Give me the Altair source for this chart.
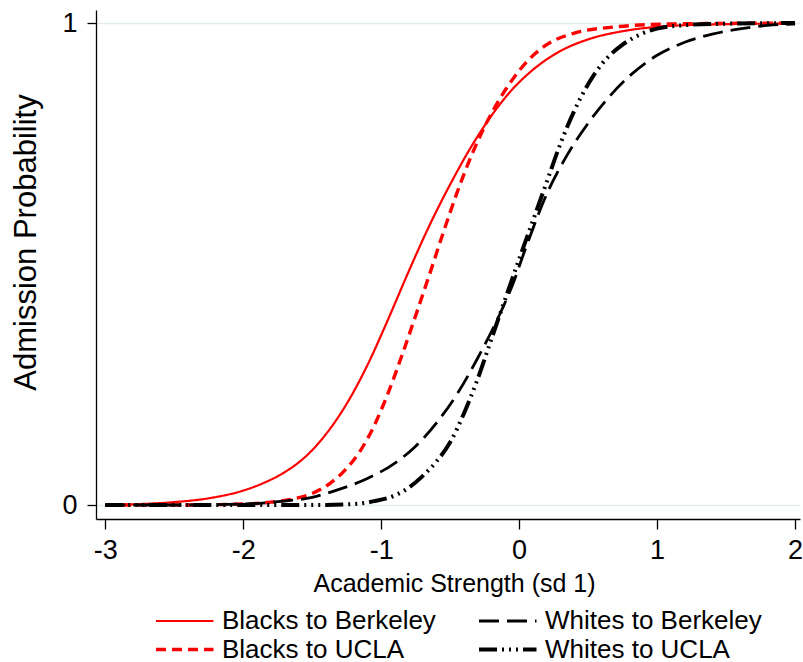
import altair as alt
import pandas as pd

# ---- data ----
series_names = ["Blacks to Berkeley", "Whites to Berkeley", "Blacks to UCLA", "Whites to UCLA"]

bb_x = [-3.0, -2.75, -2.5, -2.25, -2.0, -1.85, -1.7, -1.55, -1.4, -1.25, -1.1, -0.95, -0.8,
        -0.65, -0.5, -0.35, -0.2, -0.05, 0.1, 0.3, 0.5, 0.75, 1.0, 1.4, 2.0]
bb_y = [0.0, 0.002, 0.006, 0.014, 0.030, 0.046, 0.068, 0.100, 0.147, 0.210, 0.290, 0.385, 0.485,
        0.580, 0.665, 0.742, 0.808, 0.862, 0.903, 0.942, 0.966, 0.983, 0.992, 0.997, 0.999]

bu_x = [-3.0, -2.5, -2.0, -1.8, -1.65, -1.5, -1.37, -1.25, -1.15, -1.05, -0.95, -0.85, -0.75,
        -0.65, -0.55, -0.45, -0.35, -0.25, -0.15, -0.05, 0.05, 0.2, 0.4, 0.7, 1.1, 2.0]
bu_y = [0.0, 0.0, 0.002, 0.006, 0.012, 0.024, 0.045, 0.076, 0.113, 0.165, 0.232, 0.310, 0.393,
        0.478, 0.565, 0.648, 0.722, 0.785, 0.838, 0.882, 0.918, 0.955, 0.979, 0.992, 0.998, 1.0]

wb_x = [-3.0, -2.5, -2.0, -1.75, -1.5, -1.3, -1.1, -0.9, -0.75, -0.6, -0.45, -0.3, -0.15, -0.05,
        0.05, 0.2, 0.35, 0.5, 0.65, 0.8, 1.0, 1.2, 1.4, 1.6, 1.8, 2.0]
wb_y = [0.0, 0.0, 0.002, 0.007, 0.016, 0.033, 0.055, 0.087, 0.122, 0.170, 0.230, 0.305, 0.390, 0.455,
        0.535, 0.645, 0.727, 0.792, 0.846, 0.890, 0.933, 0.960, 0.977, 0.988, 0.995, 0.998]

wu_x = [-3.0, -2.0, -1.5, -1.2, -1.05, -0.9, -0.8, -0.7, -0.6, -0.5, -0.4, -0.3, -0.2, -0.1,
        0.0, 0.1, 0.2, 0.3, 0.4, 0.5, 0.6, 0.75, 0.9, 1.1, 1.4, 2.0]
wu_y = [0.0, 0.0, 0.0, 0.002, 0.008, 0.020, 0.036, 0.060, 0.090, 0.130, 0.190, 0.262, 0.345, 0.428,
        0.510, 0.590, 0.670, 0.750, 0.818, 0.873, 0.915, 0.955, 0.979, 0.993, 0.998, 1.0]

x_ticks = [-3, -2, -1, 0, 1, 2]
y_ticks = [0, 1]

series_colors = ["#ff0000", "#000000", "#ff0000", "#000000"]
series_dashes = [[1, 0], [20, 8], [10, 6], [18, 5, 2, 5, 2, 5, 2, 5]]
series_widths = [2.2, 4.0, 3.4, 3.6]

rows = []
for name, xs, ys in [("Blacks to Berkeley", bb_x, bb_y), ("Blacks to UCLA", bu_x, bu_y),
                     ("Whites to Berkeley", wb_x, wb_y), ("Whites to UCLA", wu_x, wu_y)]:
    for xv, yv in zip(xs, ys):
        rows.append({"series": name, "x": xv, "y": yv})
df = pd.DataFrame(rows)

FONT = "Liberation Sans"

legend = alt.Legend(
    title=None, orient="none", legendX=58, legendY=598, direction="horizontal", columns=2,
    columnPadding=35, rowPadding=2, labelFont=FONT, labelFontSize=26, labelColor="black",
    symbolType="M-1,0H4", symbolSize=529, labelOffset=41, padding=0, labelLimit=0,
)

chart = alt.Chart(df).mark_line(interpolate="monotone").encode(
    x=alt.X("x:Q", scale=alt.Scale(domain=[-3.067, 2.036], nice=False, zero=False),
            axis=alt.Axis(values=x_ticks, grid=False, title="Academic Strength (sd 1)",
                          labelExpr="toString(datum.value)",
                          domainColor="black", domainWidth=1.3, tickColor="black", tickWidth=1.3,
                          tickSize=10, labelFont=FONT, labelFontSize=27, labelColor="black",
                          labelPadding=8, labelFlush=False, labelOverlap=False,
                          titleFont=FONT, titleFontSize=25, titleFontWeight="normal",
                          titleColor="black", titlePadding=8, titleX=358)),
    y=alt.Y("y:Q", scale=alt.Scale(domain=[-0.029, 1.027], nice=False, zero=False),
            axis=alt.Axis(values=y_ticks, grid=True, gridColor="#e3eced", gridWidth=1.3,
                          title="Admission Probability", labelExpr="toString(datum.value)",
                          domainColor="black", domainWidth=1.3, tickColor="black", tickWidth=1.3,
                          tickSize=9, labelFont=FONT, labelFontSize=27, labelColor="black",
                          labelPadding=10, labelFlush=False, labelOverlap=False,
                          titleFont=FONT, titleFontSize=31, titleFontWeight="normal",
                          titleColor="black", titleX=-54, titleY=232)),
    color=alt.Color("series:N", scale=alt.Scale(domain=series_names, range=series_colors), legend=legend),
    strokeDash=alt.StrokeDash("series:N", scale=alt.Scale(domain=series_names, range=series_dashes), legend=legend),
    strokeWidth=alt.StrokeWidth("series:N", scale=alt.Scale(domain=series_names, range=series_widths), legend=legend),
).properties(
    width=704, height=509,
    autosize=alt.AutoSizeParams(type="none"),
    padding={"left": 96, "top": 10, "right": 3, "bottom": 143},
    background="white",
).configure_view(stroke=None)

chart.save("out.html", embed_options={"renderer": "svg", "actions": False})
